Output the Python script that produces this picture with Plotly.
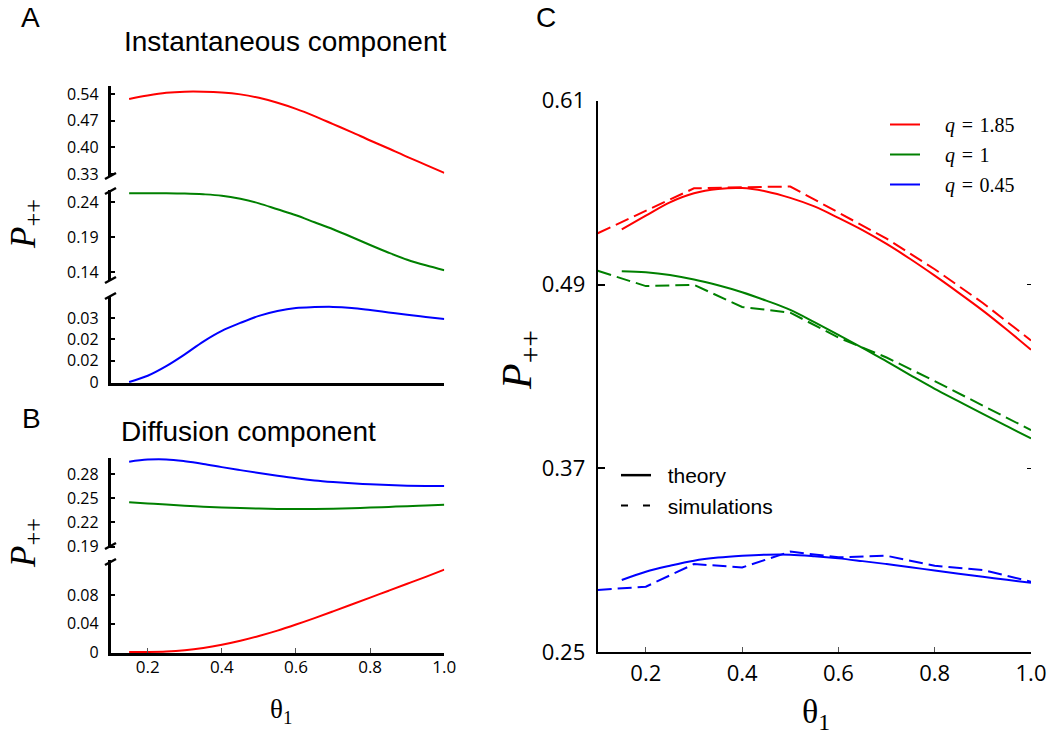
import plotly.graph_objects as go

W, H = 1050, 736

# ---------------- data ----------------
theta = [0.15, 0.2, 0.25, 0.3, 0.35, 0.4, 0.45, 0.5, 0.55, 0.6,
         0.65, 0.7, 0.75, 0.8, 0.85, 0.9, 0.95, 1.0]
theta_sim = [0.1, 0.2, 0.3, 0.4, 0.5, 0.6, 0.7, 0.8, 0.9, 1.0]

# Panel A: instantaneous component
A_red = [0.527, 0.536, 0.543, 0.546, 0.546, 0.544, 0.539, 0.530, 0.517, 0.501,
         0.482, 0.461, 0.440, 0.418, 0.397, 0.375, 0.354, 0.333]
A_green = [0.2524, 0.2525, 0.2524, 0.252, 0.251, 0.249, 0.2445, 0.238, 0.2295, 0.221,
           0.211, 0.201, 0.190, 0.1785, 0.1675, 0.1575, 0.1495, 0.1425]
A_blue = [0.0001, 0.003, 0.0075, 0.013, 0.019, 0.024, 0.0277, 0.031, 0.0333, 0.0347,
          0.0351, 0.0352, 0.0347, 0.0337, 0.0326, 0.0315, 0.0305, 0.0295]

# Panel B: diffusion component
B_blue = [0.2953, 0.2978, 0.298, 0.2958, 0.2925, 0.2885, 0.2848, 0.2812, 0.2778, 0.2747,
          0.2721, 0.2701, 0.2685, 0.2673, 0.2663, 0.2656, 0.2652, 0.2650]
B_green = [0.2449, 0.2435, 0.2421, 0.2408, 0.2396, 0.2386, 0.2378, 0.2372, 0.2368, 0.2366,
           0.2367, 0.2371, 0.2377, 0.2384, 0.2393, 0.2402, 0.241, 0.2418]
B_red = [0.0, 0.0001, 0.0007, 0.0025, 0.0057, 0.0102, 0.0158, 0.0225, 0.030, 0.0385,
         0.0475, 0.057, 0.0666, 0.0763, 0.086, 0.0957, 0.1055, 0.1155]

# Panel C: total, theory and simulations
C_red = [0.526, 0.535, 0.5437, 0.5496, 0.5524, 0.553, 0.5508, 0.5466, 0.541, 0.5335,
         0.5255, 0.5165, 0.5065, 0.4958, 0.4846, 0.473, 0.4605, 0.4474]
C_green = [0.4987, 0.498, 0.4962, 0.4933, 0.4895, 0.485, 0.4795, 0.4735, 0.4655, 0.4572,
           0.4487, 0.4398, 0.4308, 0.4220, 0.4138, 0.4056, 0.3976, 0.3896]
C_blue = [0.2972, 0.3026, 0.3065, 0.3098, 0.3118, 0.313, 0.3137, 0.3137, 0.3127, 0.3113,
          0.3095, 0.3076, 0.3055, 0.3034, 0.3013, 0.2993, 0.2973, 0.2954]
S_red = [0.5235, 0.538, 0.5528, 0.5535, 0.554, 0.537, 0.520, 0.500, 0.478, 0.4535]
S_green = [0.499, 0.489, 0.4898, 0.4754, 0.4717, 0.4554, 0.4424, 0.427, 0.411, 0.395]
S_blue = [0.2907, 0.2928, 0.3076, 0.3054, 0.3157, 0.312, 0.313, 0.3065, 0.3037, 0.2961]

q_labels = ["1.85", "1", "0.45"]

# tick values / labels
x_ticks = [0.2, 0.4, 0.6, 0.8, 1.0]
x_ticktext = ["0.2", "0.4", "0.6", "0.8", "1.0"]
A_top_ticks = [0.54, 0.47, 0.40, 0.33]
A_top_text = ["0.54", "0.47", "0.40", "0.33"]
A_mid_ticks = [0.24, 0.19, 0.14]
A_mid_text = ["0.24", "0.19", "0.14"]
A_bot_ticks = [0.0, 0.01, 0.02, 0.03]
A_bot_text = ["0", "0.02", "0.02", "0.03"]
B_top_ticks = [0.28, 0.25, 0.22, 0.19]
B_top_text = ["0.28", "0.25", "0.22", "0.19"]
B_bot_ticks = [0.0, 0.04, 0.08]
B_bot_text = ["0", "0.04", "0.08"]
C_ticks = [0.25, 0.37, 0.49, 0.61]
C_text = ["0.25", "0.37", "0.49", "0.61"]

RED, GREEN, BLUE = "#ff0000", "#008000", "#0000ff"
SIM_DASH = "14px,6px"


def px(x):
    return x / W


def py(y):
    return 1 - y / H


fig = go.Figure()

# ---- Panel A ----
fig.add_trace(go.Scatter(x=theta, y=A_red, xaxis="x", yaxis="y", mode="lines",
                         line=dict(color=RED, width=2, shape="spline"), showlegend=False))
fig.add_trace(go.Scatter(x=theta, y=A_green, xaxis="x", yaxis="y2", mode="lines",
                         line=dict(color=GREEN, width=2, shape="spline"), showlegend=False))
fig.add_trace(go.Scatter(x=theta, y=A_blue, xaxis="x", yaxis="y3", mode="lines",
                         line=dict(color=BLUE, width=2, shape="spline"), showlegend=False))
# ---- Panel B ----
fig.add_trace(go.Scatter(x=theta, y=B_blue, xaxis="x2", yaxis="y4", mode="lines",
                         line=dict(color=BLUE, width=2, shape="spline"), showlegend=False))
fig.add_trace(go.Scatter(x=theta, y=B_green, xaxis="x2", yaxis="y4", mode="lines",
                         line=dict(color=GREEN, width=2, shape="spline"), showlegend=False))
fig.add_trace(go.Scatter(x=theta, y=B_red, xaxis="x2", yaxis="y5", mode="lines",
                         line=dict(color=RED, width=2, shape="spline"), showlegend=False))
# ---- Panel C ----
for yv, col, q, g in zip([C_red, C_green, C_blue], [RED, GREEN, BLUE], q_labels, ["a", "b", "c"]):
    fig.add_trace(go.Scatter(x=theta, y=yv, xaxis="x3", yaxis="y6", mode="lines",
                             line=dict(color=col, width=2, shape="spline"),
                             name="\u00a0\u00a0\u00a0\u00a0<i>q</i>\u2004=\u2004" + q,
                             legend="legend", legendgroup=g))
for yv, col in zip([S_red, S_green, S_blue], [RED, GREEN, BLUE]):
    fig.add_trace(go.Scatter(x=theta_sim, y=yv, xaxis="x3", yaxis="y6", mode="lines",
                             line=dict(color=col, width=2, dash=SIM_DASH), showlegend=False))
# style legend entries
fig.add_trace(go.Scatter(x=[None], y=[None], xaxis="x3", yaxis="y6", mode="lines",
                         line=dict(color="black", width=2.5), name="\u00a0\u00a0theory",
                         legend="legend2"))
fig.add_trace(go.Scatter(x=[None], y=[None], xaxis="x3", yaxis="y6", mode="lines",
                         line=dict(color="black", width=2, dash="7px,15px"),
                         name="\u00a0\u00a0simulations", legend="legend2"))
# right-side mini ticks for panel C
fig.add_trace(go.Scatter(x=[0.5], y=[0.4], xaxis="x3", yaxis="y7", mode="lines",
                         line=dict(color="rgba(0,0,0,0)"), showlegend=False, hoverinfo="skip"))

TICKFONT_S = dict(family="Open Sans", size=16, color="black")
TICKFONT_L = dict(family="Open Sans", size=22, color="black")

AB_XDOM = [px(110.6), px(444.3)]
C_XDOM = [px(597.7), px(1031)]


def yax(dom, rng, tv, tt, **kw):
    d = dict(domain=dom, range=rng, tickvals=tv, ticktext=tt, showline=True,
             linecolor="black", linewidth=2.5, ticks="inside", ticklen=5, tickwidth=1.5,
             tickcolor="black", tickfont=TICKFONT_S, showgrid=False, zeroline=False,
             ticklabelstandoff=6, automargin=False)
    d.update(kw)
    return d


layout = dict(
    width=W, height=H, autosize=False,
    margin=dict(l=0, r=0, t=0, b=0, pad=0, autoexpand=False),
    paper_bgcolor="white", plot_bgcolor="white",
    xaxis=dict(domain=AB_XDOM, range=[0.1, 1.0], anchor="y3", showline=True,
               linecolor="black", linewidth=2.5, showticklabels=False, ticks="",
               showgrid=False, zeroline=False, automargin=False),
    yaxis=yax([py(177), py(86)], [0.3221, 0.561], A_top_ticks, A_top_text, anchor="x"),
    yaxis2=yax([py(281), py(190)], [0.1271, 0.2571], A_mid_ticks, A_mid_text, anchor="x"),
    yaxis3=yax([py(383), py(296)], [-0.0004, 0.0403], A_bot_ticks, A_bot_text, anchor="x"),
    xaxis2=dict(domain=AB_XDOM, range=[0.1, 1.0], anchor="y5", showline=True,
                linecolor="black", linewidth=2.5, tickvals=x_ticks, ticktext=x_ticktext,
                ticks="inside", ticklen=5, tickwidth=1, tickcolor="#555",
                tickfont=dict(family="Open Sans", size=17, color="black"),
                showgrid=False, zeroline=False, ticklabelstandoff=-3, automargin=False),
    yaxis4=yax([py(548), py(458)], [0.1884, 0.2998], B_top_ticks, B_top_text, anchor="x2"),
    yaxis5=yax([py(653), py(560)], [-0.0014, 0.1291], B_bot_ticks, B_bot_text, anchor="x2"),
    xaxis3=dict(domain=C_XDOM, range=[0.1, 1.0], anchor="y6", showline=True,
                linecolor="black", linewidth=2.2, tickvals=x_ticks, ticktext=x_ticktext,
                ticks="inside", ticklen=5, tickwidth=1, tickcolor="#555",
                tickfont=TICKFONT_L, showgrid=False, zeroline=False, ticklabelstandoff=0,
                automargin=False),
    yaxis6=dict(domain=[py(652.3), py(100.7)], range=[0.25, 0.61], anchor="x3",
                tickvals=C_ticks, ticktext=C_text, showline=True, linecolor="black",
                linewidth=2, ticks="inside", ticklen=7, tickwidth=2, tickcolor="black",
                tickfont=TICKFONT_L, showgrid=False, zeroline=False, ticklabelstandoff=6,
                automargin=False),
    yaxis7=dict(domain=[py(652.3), py(100.7)], range=[0.25, 0.61], anchor="x3",
                overlaying="y6", side="right", showline=False, tickvals=[0.37, 0.49],
                ticks="inside", ticklen=4, tickwidth=1, tickcolor="black",
                showticklabels=False, showgrid=False, zeroline=False, automargin=False),
    legend=dict(x=px(885), y=py(105), xanchor="left", yanchor="top",
                font=dict(family="Liberation Serif", size=20, color="black"),
                bgcolor="rgba(0,0,0,0)", tracegroupgap=1, itemwidth=30),
    legend2=dict(x=px(616), y=py(455), xanchor="left", yanchor="top",
                 font=dict(family="Liberation Sans", size=21, color="black"),
                 bgcolor="rgba(0,0,0,0)", itemwidth=30, tracegroupgap=0),
)
fig.update_layout(**layout)

# axis-break marks
breaks = [(179, 173), (194, 188), (283, 277), (299, 293), (549, 543), (565, 559)]
for yb, yt in breaks:
    fig.add_shape(type="line", xref="paper", yref="paper",
                  x0=px(105), y0=py(yb), x1=px(116), y1=py(yt),
                  line=dict(color="black", width=2.5))

SANS = "Liberation Sans"
SERIF = "Liberation Serif"
ann = [
    dict(text="A", x=px(30), y=py(17), size=28, fam=SANS),
    dict(text="B", x=px(31), y=py(419), size=28, fam=SANS),
    dict(text="C", x=px(546), y=py(17), size=28, fam=SANS),
    dict(text="Instantaneous component", x=px(285), y=py(42), size=28, fam=SANS),
    dict(text="Diffusion component", x=px(248), y=py(431), size=28, fam=SANS),
    dict(text="θ<sub>1</sub>", x=px(281), y=py(711), size=27, fam=SERIF),
    dict(text="θ<sub>1</sub>", x=px(816), y=py(714), size=34, fam=SERIF),
]
for a in ann:
    fig.add_annotation(text=a["text"], x=a["x"], y=a["y"], xref="paper", yref="paper",
                       xanchor="center", yanchor="middle", showarrow=False,
                       font=dict(family=a["fam"], size=a["size"], color="black"))

for x, y, s in [(px(25), py(224), 35), (px(25), py(543), 35), (px(520), py(360), 42)]:
    fig.add_annotation(text="<i>P</i><sub>++</sub>", x=x, y=y, xref="paper", yref="paper",
                       xanchor="center", yanchor="middle", showarrow=False, textangle=-90,
                       font=dict(family=SERIF, size=s, color="black"))

fig.write_html("out.html", config={"displayModeBar": False},
               post_script="document.body.style.margin='0px';")
